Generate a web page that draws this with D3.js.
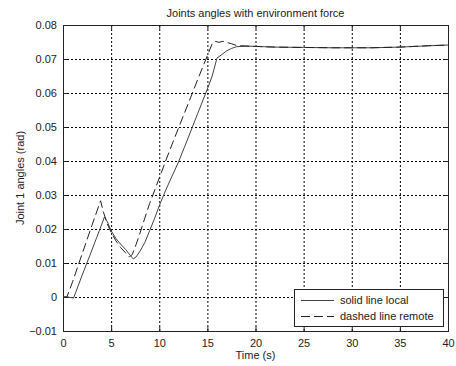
<!DOCTYPE html>
<html><head><meta charset="utf-8">
<script src="https://cdn.jsdelivr.net/npm/d3@7/dist/d3.min.js"></script>
<style>body{margin:0;background:#fff}svg{display:block}text{font-family:"Liberation Sans",Arial,sans-serif;fill:#222}</style>
</head><body><svg id="c" width="456" height="366"></svg>
<script>
const title = "Joints angles with environment force";
const xLabel = "Time (s)";
const yLabel = "Joint 1 angles (rad)";
const xTicks = [0,5,10,15,20,25,30,35,40];
const yTicks = [-0.01,0,0.01,0.02,0.03,0.04,0.05,0.06,0.07,0.08];
const legendLabels = ["solid line local","dashed line remote"];

const localT = [0,0.5,1.1,2,2.8,3.5,4.0,4.3,4.6,5,5.5,6,6.5,7,7.3,7.6,8,8.5,9,9.5,10,10.5,11,12,13,14,15,15.5,16,16.5,17,17.5,18,19,20,22,25,28,30,32,35,38,40];
const localY = [0,0,-0.0003,0.0065,0.0123,0.0175,0.0212,0.0235,0.0222,0.0195,0.0172,0.0155,0.014,0.0122,0.0112,0.0118,0.0135,0.016,0.0195,0.023,0.0268,0.0303,0.0335,0.0397,0.0468,0.054,0.0612,0.065,0.0703,0.0713,0.0724,0.0731,0.0736,0.0738,0.0737,0.0735,0.0734,0.0733,0.0733,0.0733,0.0735,0.0739,0.0741];

const remoteT = [0,0.4,1,2,3,3.9,4.2,4.6,5,5.5,6,6.5,6.9,7.2,7.6,8,8.5,9,9.5,10,11,12,13,14,15,15.5,15.8,16.2,16.6,17,17.5,18,19,20,22,25,28,30,32,35,38,40];
const remoteY = [0,0,0.0045,0.0128,0.021,0.0283,0.025,0.0215,0.019,0.0165,0.0145,0.013,0.0118,0.0125,0.0155,0.0188,0.0232,0.0275,0.0312,0.035,0.0425,0.0497,0.0568,0.064,0.071,0.0745,0.0752,0.0749,0.0752,0.0749,0.0745,0.074,0.0738,0.0737,0.0735,0.0734,0.0733,0.0733,0.0733,0.0735,0.0739,0.0741];

const L=63,R=448,T=25,B=331;
const svg=d3.select("#c");
const x=d3.scaleLinear().domain([0,40]).range([L,R]);
const y=d3.scaleLinear().domain([-0.01,0.08]).range([B,T]);

// grid
const g=svg.append("g");
g.selectAll(".gx").data(xTicks.slice(1,-1)).enter().append("line")
 .attr("x1",d=>x(d)+0.5).attr("x2",d=>x(d)+0.5).attr("y1",T).attr("y2",B)
 .attr("stroke","#000").attr("stroke-width",1).attr("stroke-dasharray","2,2");
g.selectAll(".gy").data(yTicks.slice(1,-1)).enter().append("line")
 .attr("y1",d=>Math.round(y(d))+0.5).attr("y2",d=>Math.round(y(d))+0.5).attr("x1",L).attr("x2",R)
 .attr("stroke","#000").attr("stroke-width",1).attr("stroke-dasharray","2,2");

// axes
const fmtY=d=>d===0?"0":d3.format(".2f")(d);
const ax=svg.append("g").attr("transform",`translate(0,${B})`).call(d3.axisBottom(x).tickValues(xTicks).tickSize(-4).tickPadding(8));
const axT=svg.append("g").attr("transform",`translate(0,${T})`).call(d3.axisTop(x).tickValues(xTicks).tickSize(-4).tickFormat(""));
const ay=svg.append("g").attr("transform",`translate(${L},0)`).call(d3.axisLeft(y).tickValues(yTicks).tickSize(-4).tickPadding(6).tickFormat(fmtY));
const ayR=svg.append("g").attr("transform",`translate(${R},0)`).call(d3.axisRight(y).tickValues(yTicks).tickSize(-4).tickFormat(""));
[ax,axT,ay,ayR].forEach(a=>{a.selectAll("path").attr("stroke","#222");a.selectAll("line").attr("stroke","#222");a.selectAll("text").attr("font-size","11px").attr("fill","#222").style("font-family","'Liberation Sans',Arial,sans-serif");});

// lines
const line=d3.line().x(d=>x(d[0])).y(d=>y(d[1]));
svg.append("path").datum(localT.map((t,i)=>[t,localY[i]])).attr("d",line)
 .attr("fill","none").attr("stroke","#444").attr("stroke-width",1);
svg.append("path").datum(remoteT.map((t,i)=>[t,remoteY[i]])).attr("d",line)
 .attr("fill","none").attr("stroke","#222").attr("stroke-width",1).attr("stroke-dasharray","9,4");

// labels
svg.append("text").attr("x",(L+R)/2).attr("y",17).attr("text-anchor","middle").attr("font-size","11px").text(title);
svg.append("text").attr("x",(L+R)/2).attr("y",359).attr("text-anchor","middle").attr("font-size","11px").text(xLabel);
svg.append("text").attr("transform",`translate(24,${(T+B)/2}) rotate(-90)`).attr("text-anchor","middle").attr("font-size","11px").text(yLabel);

// legend
const lg=svg.append("g");
lg.append("rect").attr("x",294.5).attr("y",289.5).attr("width",149).attr("height",37).attr("fill","#fff").attr("stroke","#222");
const dashes=[null,"9,4"];
legendLabels.forEach((lab,i)=>{
  const yy=300+i*16;
  lg.append("line").attr("x1",301).attr("x2",334).attr("y1",yy+0.5).attr("y2",yy+0.5).attr("stroke",i?"#222":"#444").attr("stroke-dasharray",dashes[i]);
  lg.append("text").attr("x",340).attr("y",yy+4).attr("font-size","11px").text(lab);
});
</script></body></html>
